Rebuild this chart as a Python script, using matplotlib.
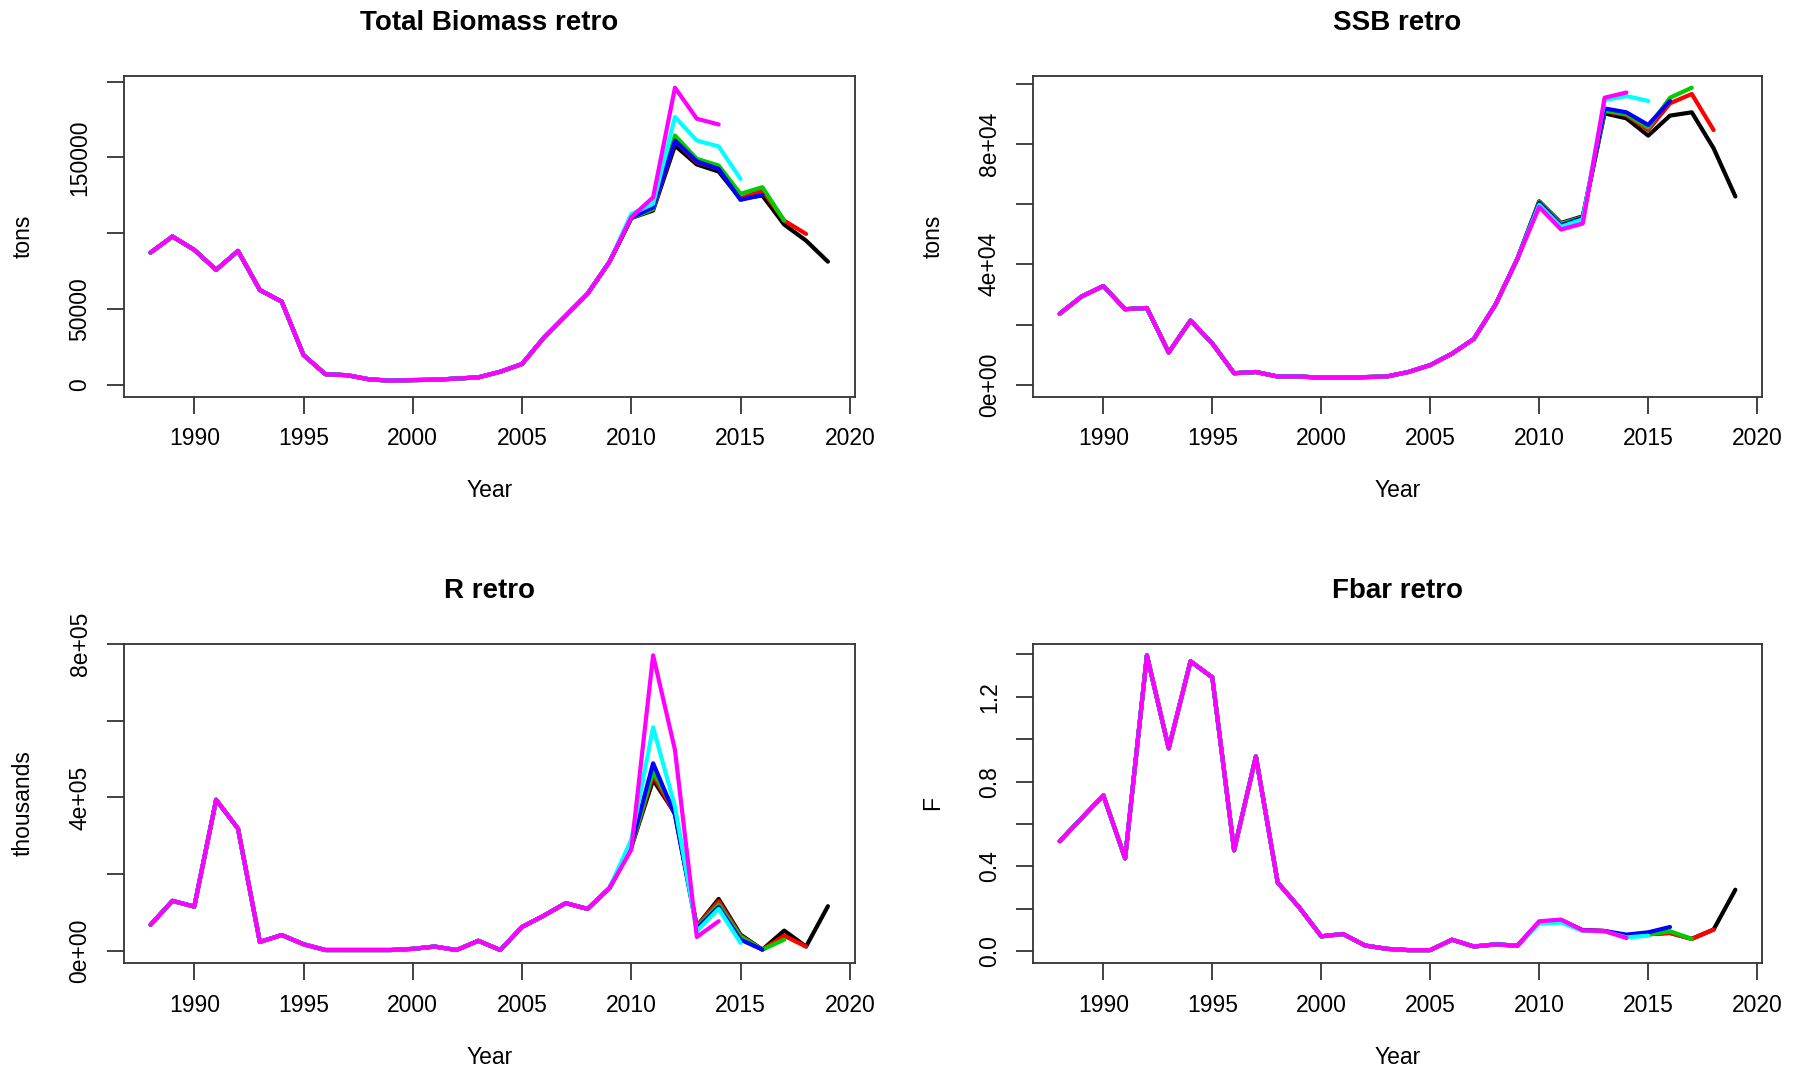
import matplotlib
matplotlib.use("Agg")
import matplotlib.pyplot as plt
from matplotlib.transforms import offset_copy

plt.rcParams['font.family'] = ['Liberation Sans', 'DejaVu Sans']

# ---------------- data ----------------
years = list(range(1988, 2020))
peels = ["black", "red", "green", "blue", "cyan", "magenta"]
colors = {"black": "#000000", "red": "#FF0000", "green": "#00CD00",
          "blue": "#0000FF", "cyan": "#00FFFF", "magenta": "#FF00FF"}

# Total biomass (tons), 1988-2009 common history
tb_base = [87200, 97800, 89000, 75800, 88300, 62500, 54800, 19500, 6900, 6200,
           3500, 2600, 3000, 3200, 4000, 4800, 8500, 13600, 31000, 45500, 60000, 81000]
tb_black = [110000, 115000, 157900, 145400, 140700, 122700, 124900, 105700, 95100, 81200]
tb_red = [110000, 116000, 161000, 147000, 142500, 123000, 128200, 108300, 99500]
tb_green = [110000, 116000, 164500, 149100, 144700, 126000, 130400, 108300]
tb_blue = [110200, 117100, 161200, 147400, 142500, 122000, 125300]
tb_cyan = [112700, 119400, 176700, 161200, 157300, 135900]
tb_magenta = [110500, 123700, 196100, 175600, 171800]

# SSB (tons)
ssb_base = [23600, 29300, 32800, 25100, 25500, 10700, 21300, 13700, 3800, 4200,
            2700, 2700, 2300, 2300, 2500, 2700, 4200, 6500, 10300, 15200, 26700, 41900]
ssb_black = [61000, 53800, 56000, 90250, 88600, 82850, 89500, 90600, 78650, 62600]
ssb_red = [60800, 53500, 55700, 91000, 89700, 84700, 93600, 96700, 84700]
ssb_green = [60800, 53500, 55700, 91200, 90000, 85500, 95450, 98800]
ssb_blue = [60500, 53000, 55500, 91900, 90600, 86400, 94400]
ssb_cyan = [59800, 52500, 55000, 94700, 96000, 94400]
ssb_magenta = [59100, 51600, 53600, 95450, 97200]

# Recruitment (thousands)
r_base = [68700, 131000, 116000, 394000, 319000, 24000, 42000, 18000, 3000, 3000,
          3000, 3000, 6000, 12000, 3000, 27000, 3000, 63000, 92500, 125000, 110000, 164000]
r_black = [270000, 445700, 359000, 65000, 136000, 43000, 4000, 53500, 12000, 117000]
r_red = [270000, 458000, 357000, 65000, 130000, 40000, 4000, 40000, 12000]
r_green = [272000, 467000, 365000, 62000, 121000, 38000, 4000, 30000]
r_blue = [275000, 489000, 355000, 58000, 115000, 30000, 4000]
r_cyan = [290000, 582600, 376000, 52000, 110000, 21600]
r_magenta = [264000, 770000, 523600, 37000, 78000]

# Fbar
f_base = [0.519, 0.627, 0.735, 0.438, 1.396, 0.957, 1.368, 1.292, 0.476, 0.919,
          0.324, 0.205, 0.070, 0.081, 0.027, 0.011, 0.005, 0.005, 0.054, 0.022, 0.032, 0.026]
f_black = [0.135, 0.145, 0.098, 0.095, 0.070, 0.080, 0.086, 0.058, 0.102, 0.290]
f_red = [0.135, 0.145, 0.098, 0.095, 0.070, 0.080, 0.086, 0.058, 0.102]
f_green = [0.135, 0.145, 0.098, 0.095, 0.070, 0.078, 0.094, 0.058]
f_blue = [0.138, 0.147, 0.098, 0.095, 0.078, 0.089, 0.114]
f_cyan = [0.130, 0.135, 0.095, 0.093, 0.065, 0.073]
f_magenta = [0.141, 0.149, 0.098, 0.095, 0.062]

xticks = [1990, 1995, 2000, 2005, 2010, 2015, 2020]

panels = [
    dict(title="Total Biomass retro", ylabel="tons", base=tb_base,
         tails=[tb_black, tb_red, tb_green, tb_blue, tb_cyan, tb_magenta],
         yticks=[0, 50000, 100000, 150000, 200000],
         ylabels=["0", "50000", "", "150000", ""]),
    dict(title="SSB retro", ylabel="tons", base=ssb_base,
         tails=[ssb_black, ssb_red, ssb_green, ssb_blue, ssb_cyan, ssb_magenta],
         yticks=[0, 20000, 40000, 60000, 80000, 100000],
         ylabels=["0e+00", "", "4e+04", "", "8e+04", ""]),
    dict(title="R retro", ylabel="thousands", base=r_base,
         tails=[r_black, r_red, r_green, r_blue, r_cyan, r_magenta],
         yticks=[0, 200000, 400000, 600000, 800000],
         ylabels=["0e+00", "", "4e+05", "", "8e+05"]),
    dict(title="Fbar retro", ylabel="F", base=f_base,
         tails=[f_black, f_red, f_green, f_blue, f_cyan, f_magenta],
         yticks=[0.0, 0.2, 0.4, 0.6, 0.8, 1.0, 1.2, 1.4],
         ylabels=["0.0", "", "0.4", "", "0.8", "", "1.2", ""]),
]

W, H = 1802, 1072
fig = plt.figure(figsize=(W / 100, H / 100), dpi=100)

# axes boxes in pixels: (left, top, right, bottom)
boxes = [(123.5, 75.8, 855.0, 396.5), (1032.7, 75.8, 1762.4, 396.5),
         (123.5, 643.5, 855.0, 963.0), (1032.7, 643.5, 1762.4, 963.0)]

fs = 16.5
for p, (l, t, r, b) in zip(panels, boxes):
    ax = fig.add_axes([l / W, 1 - b / H, (r - l) / W, (b - t) / H])
    ymax = 0
    for name, tail in zip(peels, p["tails"]):
        ys = p["base"] + tail
        xs = years[:len(ys)]
        ymax = max(ymax, max(ys))
        ax.plot(xs, ys, color=colors[name], lw=3.0, solid_joinstyle="round",
                solid_capstyle="round")
    ax.set_xlim(1986.76, 2020.24)
    ax.set_ylim(-0.04 * ymax, 1.04 * ymax)
    ax.set_xticks(xticks)
    ax.set_xticklabels([str(x) for x in xticks], fontsize=fs)
    ax.set_yticks(p["yticks"])
    ax.set_yticklabels(p["ylabels"], fontsize=fs, rotation=90, va="center")
    ax.tick_params(axis="x", direction="out", length=12, width=1.2, pad=10, colors="#222222",
                   labelcolor="black")
    ax.tick_params(axis="y", direction="out", length=12, width=1.2, pad=11, colors="#222222",
                   labelcolor="black")
    for s in ax.spines.values():
        s.set_linewidth(1.3)
        s.set_color("#333333")
    # title, axis labels
    tr = offset_copy(ax.transAxes, fig=fig, x=0, y=53, units="dots")
    ax.text(0.5, 1.0, p["title"], transform=tr, ha="center", va="center",
            fontsize=20, fontweight="bold")
    tr = offset_copy(ax.transAxes, fig=fig, x=0, y=-94, units="dots")
    ax.text(0.5, 0.0, "Year", transform=tr, ha="center", va="center", fontsize=fs)
    tr = offset_copy(ax.transAxes, fig=fig, x=-100, y=0, units="dots")
    ax.text(0.0, 0.5, p["ylabel"], transform=tr, ha="center", va="center",
            fontsize=fs, rotation=90)

fig.savefig("out.png", dpi=100, facecolor="white")
